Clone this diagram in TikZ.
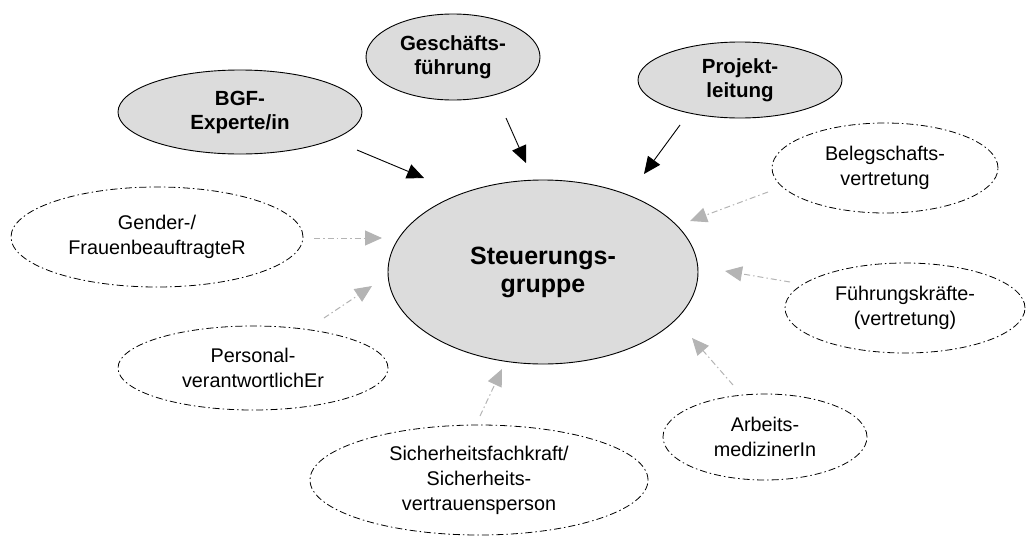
\documentclass[tikz,border=0pt]{standalone}
\usepackage{fontspec}
\setmainfont{Liberation Sans}
\usetikzlibrary{shapes.geometric,arrows.meta}
\definecolor{ellfill}{HTML}{DCDCDC}
\definecolor{arrgray}{HTML}{B4B4B4}
\tikzset{
  ell/.style={ellipse, inner sep=0pt, align=center, line width=0.9pt},
  topell/.style={ell, draw=black, fill=ellfill, font=\bfseries\fontsize{20.5}{24}\selectfont},
  sideell/.style={ell, draw=black, line width=0.8pt, dash pattern=on 7pt off 3pt on 1.5pt off 3pt, font=\fontsize{19.8}{25}\selectfont},
  blackarrow/.style={-{Triangle[length=17pt,width=15pt]}, line width=0.9pt, black},
  grayarrow/.style={-{Triangle[length=17pt,width=15pt]}, line width=1pt, arrgray, dash pattern=on 6pt off 3pt on 1.5pt off 3pt}
}
\begin{document}
\begin{tikzpicture}[x=1pt,y=-1pt]
\useasboundingbox (0,0) rectangle (1026,536);
% central
\node[ell, draw=black, fill=ellfill, minimum width=310pt, minimum height=184pt, font=\bfseries\fontsize{25}{28}\selectfont] (sg) at (543,272) {Steuerungs-\\gruppe};
% top nodes
\node[topell, minimum width=244pt, minimum height=84pt] (bgf) at (240,112) {BGF-\\Experte/in};
\node[topell, minimum width=174pt, minimum height=86pt] (gf) at (453,57) {Geschäfts-\\führung};
\node[topell, minimum width=204pt, minimum height=76pt] (pl) at (740,80) {Projekt-\\leitung};
% side nodes
\node[sideell, minimum width=226pt, minimum height=90pt] (bv) at (885,168) {Belegschafts-\\vertretung};
\node[sideell, minimum width=292pt, minimum height=100pt] (gender) at (157,237) {Gender-/\\FrauenbeauftragteR};
\node[sideell, minimum width=270pt, minimum height=84pt] (pers) at (253,368) {Personal-\\verantwortlichEr};
\node[sideell, minimum width=338pt, minimum height=110pt] (sfk) at (479,480) {Sicherheitsfachkraft/\\Sicherheits-\\vertrauensperson};
\node[sideell, minimum width=204pt, minimum height=86pt] (am) at (765,437) {Arbeits-\\medizinerIn};
\node[sideell, minimum width=240pt, minimum height=90pt] (fk) at (905,308) {Führungskräfte-\\(vertretung)};
% arrow end points
\coordinate (bgf-s) at (357,150); \coordinate (bgf-e) at (424,178);
\coordinate (gf-s) at (506,118);  \coordinate (gf-e) at (526,163);
\coordinate (pl-s) at (680,125);  \coordinate (pl-e) at (644,174);
\coordinate (bv-s) at (768,192);  \coordinate (bv-e) at (690,221);
\coordinate (gender-s) at (314,238); \coordinate (gender-e) at (382,238);
\coordinate (pers-s) at (324,318); \coordinate (pers-e) at (372,286);
\coordinate (sfk-s) at (480,416); \coordinate (sfk-e) at (502,369);
\coordinate (am-s) at (733,385); \coordinate (am-e) at (692,338);
\coordinate (fk-s) at (790,282); \coordinate (fk-e) at (725,271);
% arrows
\draw[blackarrow] (bgf-s) -- (bgf-e);
\draw[blackarrow] (gf-s) -- (gf-e);
\draw[blackarrow] (pl-s) -- (pl-e);
\draw[grayarrow] (bv-s) -- (bv-e);
\draw[grayarrow] (gender-s) -- (gender-e);
\draw[grayarrow] (pers-s) -- (pers-e);
\draw[grayarrow] (sfk-s) -- (sfk-e);
\draw[grayarrow] (am-s) -- (am-e);
\draw[grayarrow] (fk-s) -- (fk-e);
\end{tikzpicture}
\end{document}
